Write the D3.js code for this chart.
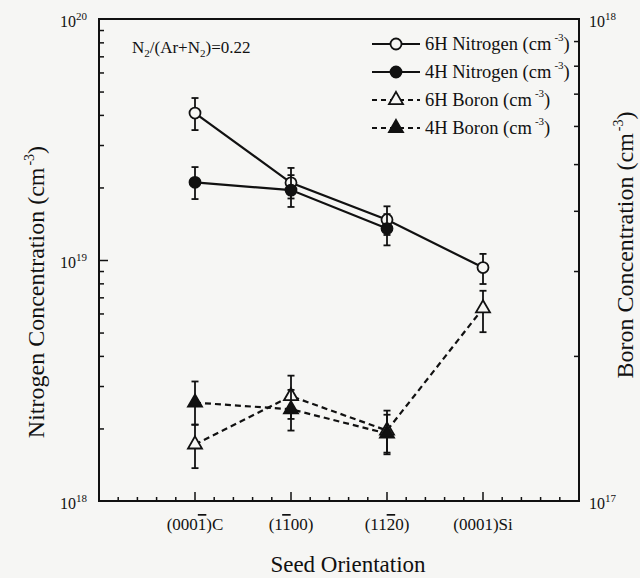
<!DOCTYPE html>
<html>
<head>
<meta charset="utf-8">
<script src="https://cdn.jsdelivr.net/npm/d3@7"></script>
<style>
  body { margin: 0; background: #f6f6f4; }
  svg text { font-family: "Liberation Serif", "DejaVu Serif", serif; fill: #111; }
</style>
</head>
<body>
<svg id="chart" width="640" height="578" font-family="Liberation Serif, DejaVu Serif, serif"></svg>
<script>
// Seed orientations, {n} marks a digit drawn with an overbar
const categories = ["(000{1})C", "(1{1}00)", "(11{2}0)", "(0001)Si"];

// Nitrogen, left axis (cm^-3)
const nitrogen6H = [4.07e19, 2.09e19, 1.47e19, 9.3e18];
const nitrogen6HErr = [[3.46e19, 4.7e19], [1.8e19, 2.41e19], [1.27e19, 1.67e19], [7.95e18, 1.06e19]];
const nitrogen4H = [2.1e19, 1.95e19, 1.35e19];
const nitrogen4HErr = [[1.79e19, 2.43e19], [1.66e19, 2.25e19], [1.15e19, 1.55e19]];

// Boron, right axis (cm^-3)
const boron6H = [1.31e17, 1.65e17, 1.4e17, 2.51e17];
const boron6HErr = [[1.17e17, 1.44e17], [1.48e17, 1.82e17], [1.26e17, 1.51e17], [2.24e17, 2.73e17]];
const boron4H = [1.6e17, 1.55e17, 1.38e17];
const boron4HErr = [[1.44e17, 1.77e17], [1.4e17, 1.7e17], [1.25e17, 1.54e17]];

const legendLabels = ["6H Nitrogen", "4H Nitrogen", "6H Boron", "4H Boron"];
const leftTicks = [1e18, 1e19, 1e20];
const rightTicks = [1e17, 1e18];

const margin = { top: 19, right: 61, bottom: 77, left: 99 };
const width = 640, height = 578;
const font = "'Liberation Serif', 'DejaVu Serif', serif";

const svg = d3.select("#chart");

// Scales
const x = d3.scalePoint()
  .domain(categories)
  .range([margin.left, width - margin.right])
  .padding(1);
const yN = d3.scaleLog().domain([1e18, 1e20]).range([height - margin.bottom, margin.top]);
const yB = d3.scaleLog().domain([1e17, 1e18]).range([height - margin.bottom, margin.top]);

const plotBottom = height - margin.bottom;
const plotRight = width - margin.right;

// Bottom ticks: minor every fifth of a category step, major at each category
const step = x.step();
const minorX = d3.range(1, 25).map(i => margin.left + i * step / 5);
svg.append("g")
  .selectAll("line")
  .data(minorX)
  .join("line")
  .attr("x1", d => d).attr("x2", d => d)
  .attr("y1", plotBottom)
  .attr("y2", (d, i) => plotBottom - ((i + 1) % 5 === 0 ? 9 : 4))
  .attr("stroke", "#111")
  .attr("stroke-width", 1.5);

// Left axis (log ticks, inward)
const leftMinor = yN.ticks().filter(d => d > 1e18 && d < 1e20);
svg.append("g")
  .attr("transform", `translate(${margin.left},0)`)
  .call(d3.axisLeft(yN).tickValues(leftMinor).tickSize(-5).tickFormat(""))
  .call(g => g.select(".domain").remove())
  .call(g => g.selectAll(".tick line").attr("stroke", "#111").attr("stroke-width", 1.5))
  .call(g => g.selectAll(".tick").filter(d => d === 1e19).select("line").attr("x2", 9));

// Right axis
const rightMinor = yB.ticks().filter(d => d > 1e17 && d < 1e18);
svg.append("g")
  .attr("transform", `translate(${plotRight},0)`)
  .call(d3.axisRight(yB).tickValues(rightMinor).tickSize(-5).tickFormat(""))
  .call(g => g.select(".domain").remove())
  .call(g => g.selectAll(".tick line").attr("stroke", "#111").attr("stroke-width", 1.5));

// Frame
svg.append("rect")
  .attr("x", margin.left)
  .attr("y", margin.top)
  .attr("width", plotRight - margin.left)
  .attr("height", plotBottom - margin.top)
  .attr("fill", "none")
  .attr("stroke", "#111")
  .attr("stroke-width", 2);

// Power-of-ten tick labels
function powerLabel(g, value, px, py, anchor) {
  const exp = Math.round(Math.log10(value));
  const t = g.append("text")
    .attr("x", px).attr("y", py)
    .attr("text-anchor", anchor)
    .style("font-family", font)
    .style("font-size", "16px");
  t.append("tspan").text("10");
  t.append("tspan").attr("dy", -7).style("font-size", "11px").text(exp);
}
const labels = svg.append("g");
leftTicks.forEach(v => powerLabel(labels, v, 87, yN(v) + 8, "end"));
rightTicks.forEach(v => powerLabel(labels, v, 589, yB(v) + 8, "start"));

// Category labels with overbars
svg.append("g")
  .selectAll("text")
  .data(categories)
  .join("text")
  .attr("x", d => x(d))
  .attr("y", 530)
  .attr("text-anchor", "middle")
  .style("font-family", font)
  .style("font-size", "17px")
  .each(function (d) {
    const t = d3.select(this);
    d.split(/(\{\d\})/).filter(s => s).forEach(part => {
      if (part.startsWith("{")) {
        t.append("tspan").style("text-decoration", "overline").text(part.slice(1, -1));
      } else {
        t.append("tspan").text(part);
      }
    });
  });

// Axis titles
svg.append("text")
  .attr("x", 348).attr("y", 572)
  .attr("text-anchor", "middle")
  .style("font-family", font)
  .style("font-size", "23px")
  .text("Seed Orientation");

function unitTitle(label, cx, cy) {
  const t = svg.append("text")
    .attr("transform", `translate(${cx},${cy}) rotate(-90)`)
    .attr("text-anchor", "middle")
    .style("font-family", font)
    .style("font-size", "24px");
  t.append("tspan").text(label + " (cm");
  t.append("tspan").attr("dy", -10).attr("dx", 2).style("font-size", "14px").text("-3");
  t.append("tspan").attr("dy", 10).text(")");
}
unitTitle("Nitrogen Concentration", 44, 292);
unitTitle("Boron Concentration", 633, 245);

// Annotation
const note = svg.append("text").attr("x", 132).attr("y", 53)
  .style("font-family", font).style("font-size", "17px");
note.append("tspan").text("N");
note.append("tspan").attr("dy", 4).style("font-size", "11px").text("2");
note.append("tspan").attr("dy", -4).text("/(Ar+N");
note.append("tspan").attr("dy", 4).style("font-size", "11px").text("2");
note.append("tspan").attr("dy", -4).text(")=0.22");

// Series
const series = [
  { values: nitrogen6H, err: nitrogen6HErr, y: yN, filled: false, tri: false },
  { values: nitrogen4H, err: nitrogen4HErr, y: yN, filled: true, tri: false },
  { values: boron6H, err: boron6HErr, y: yB, filled: false, tri: true },
  { values: boron4H, err: boron4HErr, y: yB, filled: true, tri: true }
];

const bg = "#f6f6f4";
const triangle = d3.symbol().type(d3.symbolTriangle).size(85);

function drawMarker(g, s, px, py) {
  if (s.tri) {
    g.append("path")
      .attr("d", triangle())
      .attr("transform", `translate(${px},${py})`)
      .attr("fill", s.filled ? "#111" : bg)
      .attr("stroke", "#111")
      .attr("stroke-width", 1.8);
  } else {
    g.append("circle")
      .attr("cx", px).attr("cy", py).attr("r", 5.5)
      .attr("fill", s.filled ? "#111" : bg)
      .attr("stroke", "#111")
      .attr("stroke-width", 1.8);
  }
}

const plot = svg.append("g");
series.forEach(s => {
  const pts = s.values.map((v, i) => [x(categories[i]), s.y(v)]);
  plot.append("path")
    .attr("d", d3.line()(pts))
    .attr("fill", "none")
    .attr("stroke", "#111")
    .attr("stroke-width", 2.2)
    .attr("stroke-dasharray", s.tri ? "6,4" : null);
});
series.forEach(s => {
  const g = plot.append("g");
  s.err.forEach(([lo, hi], i) => {
    const px = x(categories[i]);
    g.append("line")
      .attr("x1", px).attr("x2", px)
      .attr("y1", s.y(lo)).attr("y2", s.y(hi))
      .attr("stroke", "#111").attr("stroke-width", 1.8);
    [lo, hi].forEach(v => {
      g.append("line")
        .attr("x1", px - 3.5).attr("x2", px + 3.5)
        .attr("y1", s.y(v)).attr("y2", s.y(v))
        .attr("stroke", "#111").attr("stroke-width", 1.8);
    });
  });
  s.values.forEach((v, i) => drawMarker(g, s, x(categories[i]), s.y(v)));
});

// Legend
const legend = svg.append("g");
legendLabels.forEach((label, i) => {
  const s = series[i];
  const ly = 44 + i * 28;
  legend.append("line")
    .attr("x1", 372).attr("x2", 420)
    .attr("y1", ly).attr("y2", ly)
    .attr("stroke", "#111")
    .attr("stroke-width", 2)
    .attr("stroke-dasharray", s.tri ? "5,4" : null);
  drawMarker(legend, s, 396, ly);
  const t = legend.append("text")
    .attr("x", 425).attr("y", ly + 6)
    .style("font-family", font)
    .style("font-size", "18.5px");
  t.append("tspan").text(label + " (cm");
  t.append("tspan").attr("dy", -9).attr("dx", 3).style("font-size", "11px").text("-3");
  t.append("tspan").attr("dy", 9).text(")");
});
</script>
</body>
</html>
